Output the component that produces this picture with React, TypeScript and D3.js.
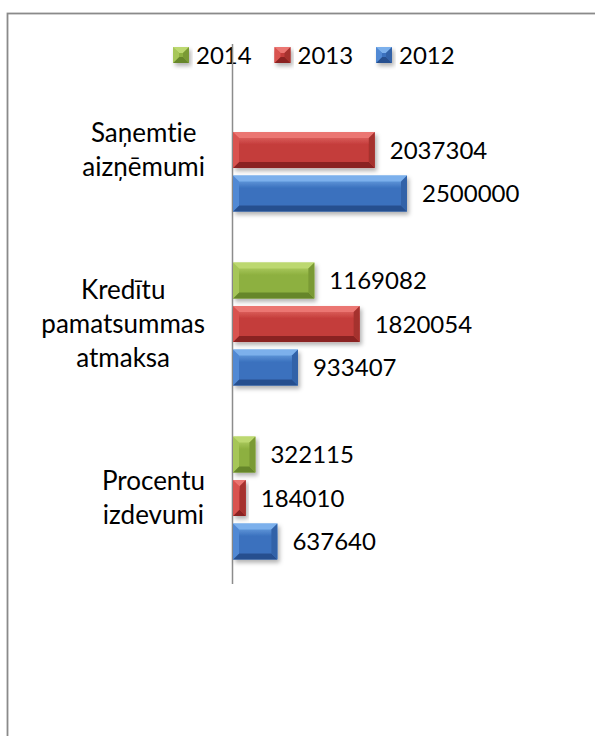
import React, { useEffect, useRef } from "react";
import * as d3 from "d3";

const categories = ["Saņemtie aizņēmumi", "Kredītu pamatsummas atmaksa", "Procentu izdevumi"];
const categoryLines = [["Saņemtie", "aizņēmumi"], ["Kredītu", "pamatsummas", "atmaksa"], ["Procentu", "izdevumi"]];
const seriesNames = ["2014", "2013", "2012"];
const values2014: (number | null)[] = [null, 1169082, 322115];
const values2013: (number | null)[] = [2037304, 1820054, 184010];
const values2012: (number | null)[] = [2500000, 933407, 637640];
const seriesValues = [values2014, values2013, values2012];

const palette: Record<string, { base: string; light: string; dark: string; side: string; top: string }> = {
  "2014": { base: "#8DB03F", light: "#BCD870", dark: "#66862A", side: "#7A9A34", top: "#A6C659" },
  "2013": { base: "#C43C3A", light: "#EB7672", dark: "#8A2422", side: "#A5302E", top: "#D9524F" },
  "2012": { base: "#3A71BE", light: "#7BB0EC", dark: "#27508F", side: "#3262A8", top: "#5189D4" },
};

const FONT = "Lato, 'Open Sans', sans-serif";
const FS = 24;
const FS_CAT = 26;

function Bar({ x0, x1, y0, y1, c, id }: any) {
  const b = Math.min(6, (x1 - x0) / 2, (y1 - y0) / 2);
  const pts = (a: number[][]) => a.map((p) => p.join(",")).join(" ");
  return (
    <g filter="url(#shadow)">
      <rect x={x0} y={y0} width={x1 - x0} height={y1 - y0} fill={`url(#grad${id})`} />
      <polygon points={pts([[x0, y0], [x1, y0], [x1 - b, y0 + b], [x0 + b, y0 + b]])} fill={c.light} />
      <polygon points={pts([[x0, y1], [x1, y1], [x1 - b, y1 - b], [x0 + b, y1 - b]])} fill={c.dark} />
      <polygon points={pts([[x1, y0], [x1, y1], [x1 - b, y1 - b], [x1 - b, y0 + b]])} fill={c.side} />
      <polygon points={pts([[x0, y0], [x0, y1], [x0 + b, y1 - b], [x0 + b, y0 + b]])} fill={c.top} />
    </g>
  );
}

export default function App() {
  const labelRef = useRef<SVGGElement>(null);
  const width = 595;
  const height = 736;
  const axisX = 233;

  const x = d3.scaleLinear().domain([0, 3000000]).range([axisX, axisX + 208.8]);
  const y0 = d3.scaleBand<string>().domain(categories).range([63, 585]).paddingInner(0.293).paddingOuter(0.1466);
  const y1 = d3.scaleBand<string>().domain(seriesNames).range([0, y0.bandwidth()]).paddingInner(0.172);

  const legendX = d3.scalePoint<string>().domain(seriesNames).range([173, 376]);

  useEffect(() => {
    if (!labelRef.current) return;
    const g = d3.select(labelRef.current);
    g.selectAll("g.cat").each(function () {
      const texts = d3.select(this).selectAll<SVGTextElement, unknown>("text");
      let maxW = 0;
      texts.each(function () {
        maxW = Math.max(maxW, this.getComputedTextLength());
      });
      texts.attr("x", 205 - maxW / 2);
    });
  }, []);

  const lineH = 34;

  return (
    <svg width={width} height={height} style={{ position: "absolute", left: 0, top: 0, fontVariantLigatures: "none" }} fontFamily={FONT}>
      <defs>
        <filter id="shadow" x="-10%" y="-20%" width="130%" height="160%">
          <feDropShadow dx="2" dy="3" stdDeviation="2" floodColor="#000" floodOpacity="0.3" />
        </filter>
        {seriesNames.map((s) => (
          <linearGradient key={s} id={`grad${s}`} x1="0" y1="0" x2="0" y2="1">
            <stop offset="0" stopColor={palette[s].light} />
            <stop offset="0.35" stopColor={palette[s].base} />
            <stop offset="1" stopColor={palette[s].base} />
          </linearGradient>
        ))}
      </defs>
      <rect x={0} y={0} width={width} height={height} fill="#fff" />
      <rect x={7.5} y={13.5} width={700} height={800} fill="none" stroke="#8a8a8a" strokeWidth={1.8} />

      {/* legend */}
      {seriesNames.map((s) => {
        const lx = legendX(s)!;
        return (
          <g key={s}>
            <Bar x0={lx} x1={lx + 16} y0={47} y1={63} c={palette[s]} id={s} />
            <text x={lx + 23} y={55} dy="0.36em" fontSize={FS} fill="#000">{s}</text>
          </g>
        );
      })}

      {/* axis line */}
      <line x1={axisX - 0.5} x2={axisX - 0.5} y1={44} y2={584} stroke="#8c8c8c" strokeWidth={1.5} />

      {/* bars */}
      {categories.map((cat, ci) => (
        <g key={cat}>
          {seriesNames.map((s, si) => {
            const v = seriesValues[si][ci];
            if (v == null) return null;
            const top = y0(cat)! + y1(s)!;
            const bot = top + y1.bandwidth();
            return (
              <g key={s}>
                <Bar x0={x(0)} x1={x(v)} y0={top} y1={bot} c={palette[s]} id={s} />
                <text x={x(v) + 15} y={(top + bot) / 2} dy="0.36em" fontSize={FS} fill="#000">{v}</text>
              </g>
            );
          })}
        </g>
      ))}

      {/* category labels */}
      <g ref={labelRef}>
        {categories.map((cat, ci) => {
          const lines = categoryLines[ci];
          const cy = y0(cat)! + y0.bandwidth() / 2;
          const start = cy - ((lines.length - 1) * lineH) / 2;
          return (
            <g className="cat" key={cat}>
              {lines.map((ln, li) => (
                <text key={li} x={150} y={start + li * lineH} dy="0.36em" fontSize={FS_CAT} textAnchor="middle" fill="#000">{ln}</text>
              ))}
            </g>
          );
        })}
      </g>
    </svg>
  );
}
